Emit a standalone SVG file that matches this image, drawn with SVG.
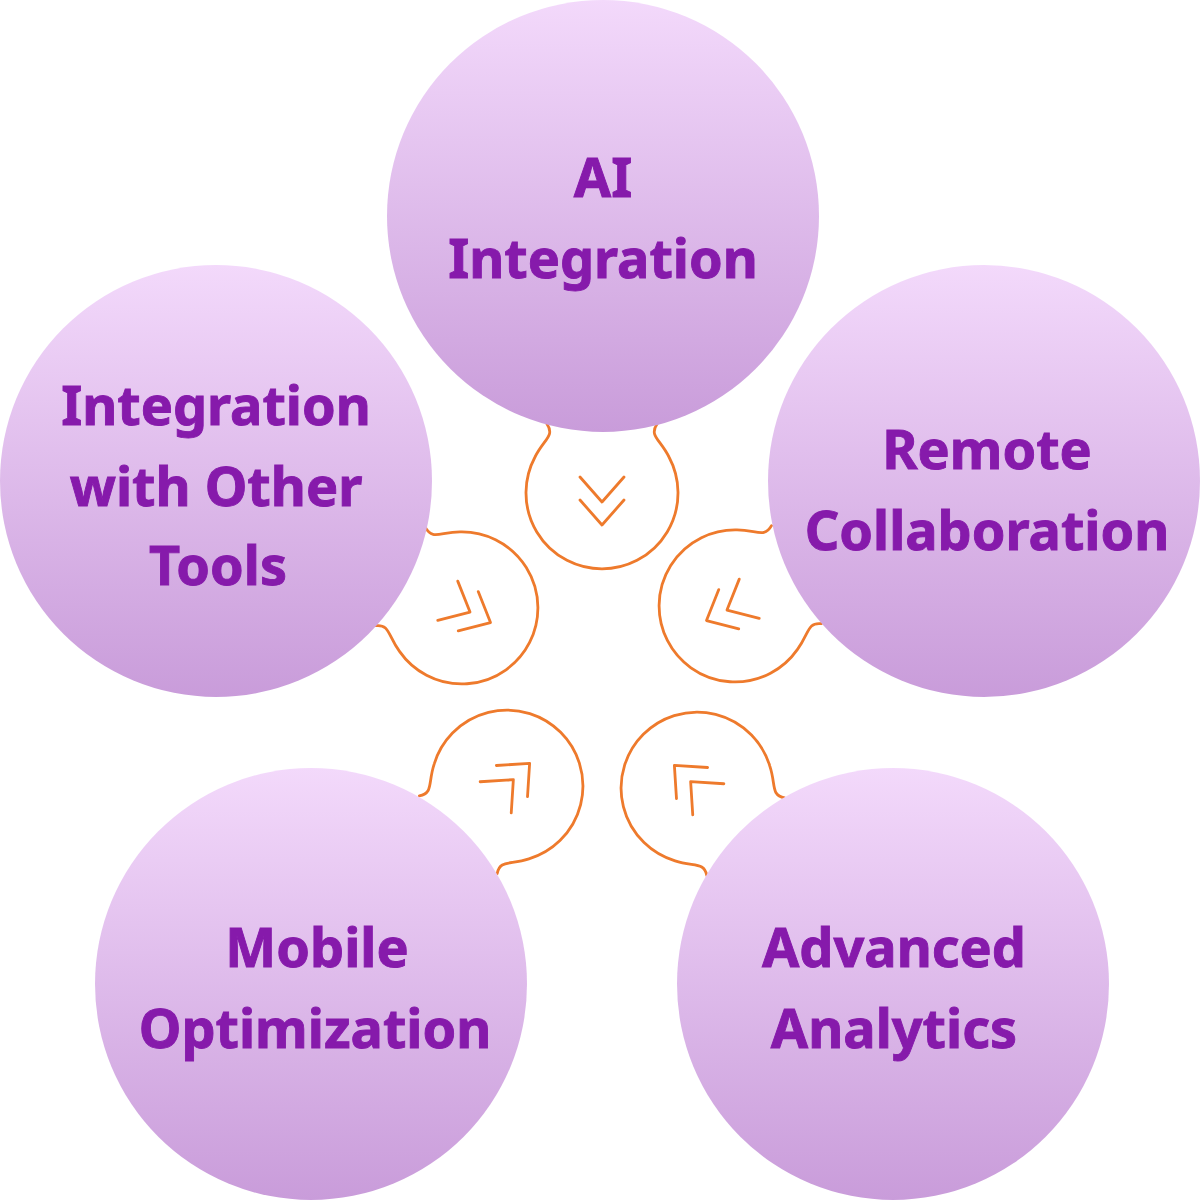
<svg xmlns="http://www.w3.org/2000/svg" xmlns:xlink="http://www.w3.org/1999/xlink" width="1200" height="1200" viewBox="0 0 1200 1200">
  <defs>
    <linearGradient id="nodeFill" x1="0" y1="0" x2="0" y2="1">
      <stop offset="0" stop-color="#F3D9FB"/>
      <stop offset="1" stop-color="#C99CDA"/>
    </linearGradient>
    <g id="bulb">
      <path d="M -55,-69 C -47,-57 -58,-54 -67,-36 A 76 76 0 1 0 67,-36 C 58,-54 47,-57 55,-69"/>
      <path d="M -22,-16 L 0,9 L 22,-16 M -22,7 L 0,32 L 22,7"/>
    </g>
  </defs>
  <style>
    .node circle { fill: url(#nodeFill); }
    .node text { font-family: "Noto Sans", "Open Sans", "Liberation Sans", sans-serif; font-weight: 700; font-size: 54px; fill: #861AAB; stroke: #861AAB; stroke-width: 0.9; text-anchor: middle; }
    #connectors use { fill: none; stroke: #EE7A2C; stroke-width: 2.8; stroke-linecap: round; stroke-linejoin: round; }
  </style>
  <rect width="1200" height="1200" fill="#FFFFFF"/>
  <g id="connectors">
    <use xlink:href="#bulb" href="#bulb" transform="translate(602,493)"/>
    <use xlink:href="#bulb" href="#bulb" transform="translate(462,608) rotate(-63)"/>
    <use xlink:href="#bulb" href="#bulb" transform="translate(735,606) rotate(63)"/>
    <use xlink:href="#bulb" href="#bulb" transform="translate(507,786) rotate(-135)"/>
    <use xlink:href="#bulb" href="#bulb" transform="translate(697,788) rotate(135)"/>
  </g>
  <g id="node-ai" class="node">
    <circle cx="603" cy="216" r="216"/>
    <text x="603" y="197">AI</text>
    <text x="603" y="278">Integration</text>
  </g>
  <g id="node-tools" class="node">
    <circle cx="216" cy="481" r="216"/>
    <text x="216" y="425">Integration</text>
    <text x="216" y="506">with Other</text>
    <text x="218" y="585">Tools</text>
  </g>
  <g id="node-remote" class="node">
    <circle cx="984" cy="481" r="216"/>
    <text x="987" y="469">Remote</text>
    <text x="987" y="550">Collaboration</text>
  </g>
  <g id="node-mobile" class="node">
    <circle cx="311" cy="984" r="216"/>
    <text x="317" y="967">Mobile</text>
    <text x="315" y="1048">Optimization</text>
  </g>
  <g id="node-analytics" class="node">
    <circle cx="893" cy="984" r="216"/>
    <text x="894" y="967">Advanced</text>
    <text x="894" y="1048">Analytics</text>
  </g>
</svg>
